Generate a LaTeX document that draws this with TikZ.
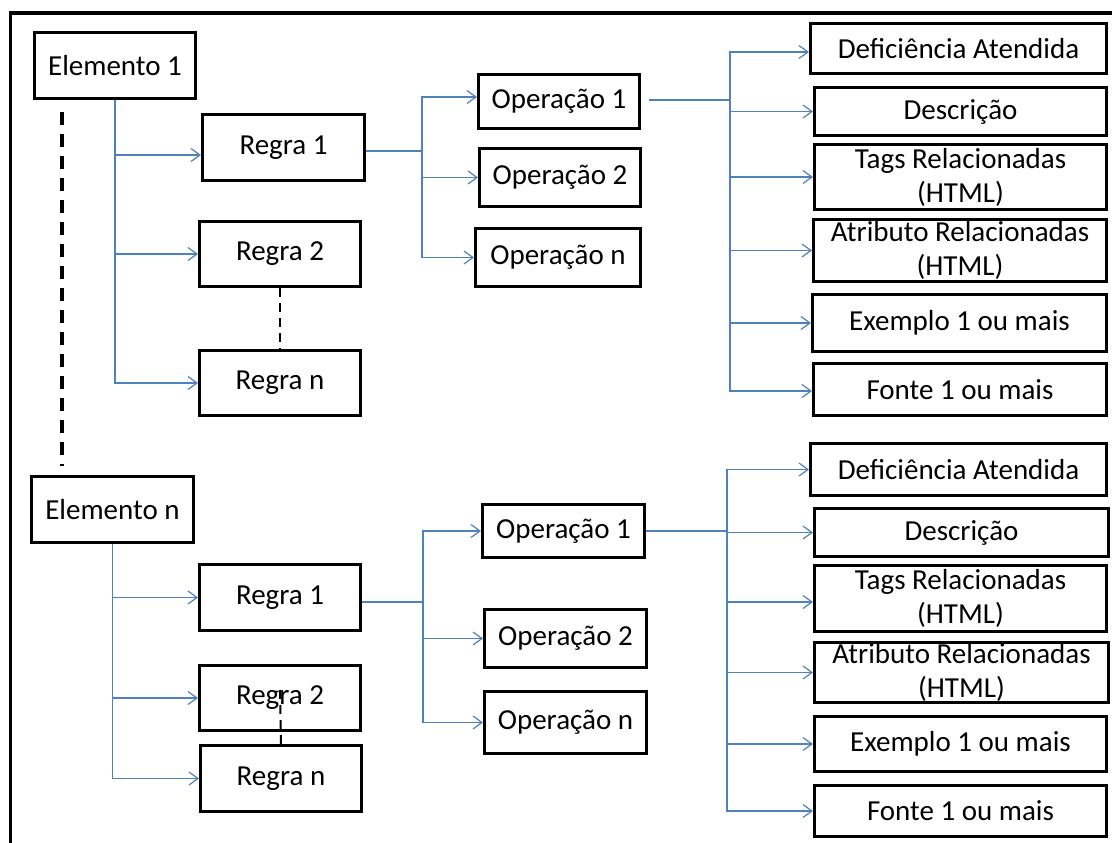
\documentclass[tikz,border=0pt]{standalone}
\usepackage{fontspec}
\setmainfont{Carlito}
\usetikzlibrary{arrows.meta}
\definecolor{linkblue}{RGB}{79,129,189}
\begin{document}
\begin{tikzpicture}[x=1pt,y=-1pt,
  box/.style 2 args={draw=black, line width=3pt, inner sep=0pt, align=center,
    minimum width=#1, minimum height=#2, font=\fontsize{29}{34}\selectfont},
  link/.style={draw=linkblue, line width=1.4pt},
  conn/.style={link, -{Straight Barb[length=9pt,width=13pt,line width=1.2pt]}},
  bigdash/.style={draw=black, line width=3.5pt, dash pattern=on 13pt off 9pt},
  smalldash/.style={draw=black, line width=2pt, dash pattern=on 9pt off 6pt},
  frame/.style={draw=black, line width=3.5pt}
]
\useasboundingbox (0,0) rectangle (1112,843);

% outer frame (top and left edges)
\draw[frame] (10.5,845) -- (10.5,13) -- (1114,13);

% ---------- upper group ----------
\node[box={161pt}{66pt}] (e1) at (115,65.5) {Elemento 1};
\node[box={162pt}{66pt}] (r1) at (283.5,147.5) {Regra 1};
\node[box={161pt}{65pt}] (r2) at (280,254) {Regra 2};
\node[box={161pt}{65pt}] (rn) at (280,383) {Regra n};

\node[box={161pt}{54pt}] (o1) at (559,101.5) {Operação 1};
\node[box={161pt}{58pt}] (o2) at (560,177.5) {Operação 2};
\node[box={165pt}{58pt}] (on) at (558,257.5) {Operação n};

\node[box={296pt}{50pt}] (d)    at (958.5,48.5) {Deficiência Atendida};
\node[box={292pt}{48pt}] (desc) at (960.5,111.5) {Descrição};
\node[box={292pt}{65pt}] (tags) at (960.5,177) {Tags Relacionadas\\(HTML)};
\node[box={293pt}{62pt}] (atr)  at (960,250.5) {Atributo Relacionadas\\(HTML)};
\node[box={294pt}{57pt}] (ex)   at (959.5,323) {Exemplo 1 ou mais};
\node[box={293pt}{52pt}] (fo)   at (960,389.5) {Fonte 1 ou mais};

% element to rules
\draw[conn] (e1.south) |- ([yshift=-7.5pt]r1.west);
\draw[conn] (e1.south) |- (r2.west);
\draw[conn] (e1.south) |- (rn.west);

% rule to operations
\coordinate (j1) at (422,151);
\draw[link] ([yshift=-3.5pt]r1.east) -- (j1);
\draw[conn] (j1) |- ([yshift=4.5pt]o1.west);
\draw[conn] (j1) |- (o2.west);
\draw[conn] (j1) |- (on.west);

% operation to its attributes
\coordinate (j2) at (730,100);
\draw[link] ([xshift=8pt,yshift=1.5pt]o1.east) -- (j2);
\draw[conn] (j2) |- ([yshift=-3.5pt]d.west);
\draw[conn] (j2) |- (desc.west);
\draw[conn] (j2) |- (tags.west);
\draw[conn] (j2) |- (atr.west);
\draw[conn] (j2) |- (ex.west);
\draw[conn] (j2) |- ([yshift=-1.5pt]fo.west);

% ellipsis marks
\draw[smalldash] (r2.south) -- (rn.north);
\coordinate (dotA) at (62,112);
\coordinate (dotB) at (62,466);
\draw[bigdash] (dotA) -- (dotB);

% ---------- lower group ----------
\node[box={162pt}{66pt}] (en)  at (112.5,509.5) {Elemento n};
\node[box={161pt}{66pt}] (br1) at (280,597.5) {Regra 1};
\node[box={161pt}{65pt}] (br2) at (280,698) {Regra 2};
\node[box={161pt}{66pt}] (brn) at (281,778.5) {Regra n};

\node[box={162pt}{53pt}] (bo1) at (563.5,531) {Operação 1};
\node[box={162pt}{58pt}] (bo2) at (565.5,638.5) {Operação 2};
\node[box={162pt}{62pt}] (bon) at (565.5,722.5) {Operação n};

\node[box={296pt}{52pt}] (bd)    at (958.5,469.5) {Deficiência Atendida};
\node[box={294pt}{48pt}] (bdesc) at (961.5,532.5) {Descrição};
\node[box={292pt}{66pt}] (btags) at (960.5,598.5) {Tags Relacionadas\\(HTML)};
\node[box={294pt}{60pt}] (batr)  at (961.5,672.5) {Atributo Relacionadas\\(HTML)};
\node[box={292pt}{55pt}] (bex)   at (960.5,744) {Exemplo 1 ou mais};
\node[box={292pt}{51pt}] (bfo)   at (960.5,811) {Fonte 1 ou mais};

\draw[conn] (en.south) |- (br1.west);
\draw[conn] (en.south) |- (br2.west);
\draw[conn] (en.south) |- (brn.west);

\coordinate (j3) at (423,602);
\draw[link] ([yshift=-4.5pt]br1.east) -- (j3);
\draw[conn] (j3) |- (bo1.west);
\draw[conn] (j3) |- (bo2.west);
\draw[conn] (j3) |- (bon.west);

\coordinate (j4) at (727,531);
\draw[link] (bo1.east) -- (j4);
\draw[conn] (j4) |- (bd.west);
\draw[conn] (j4) |- (bdesc.west);
\draw[conn] (j4) |- ([yshift=-3.5pt]btags.west);
\draw[conn] (j4) |- (batr.west);
\draw[conn] (j4) |- (bex.west);
\draw[conn] (j4) |- (bfo.west);

\draw[smalldash] ([yshift=8pt]br2.center) -- (brn.north);
\end{tikzpicture}
\end{document}
